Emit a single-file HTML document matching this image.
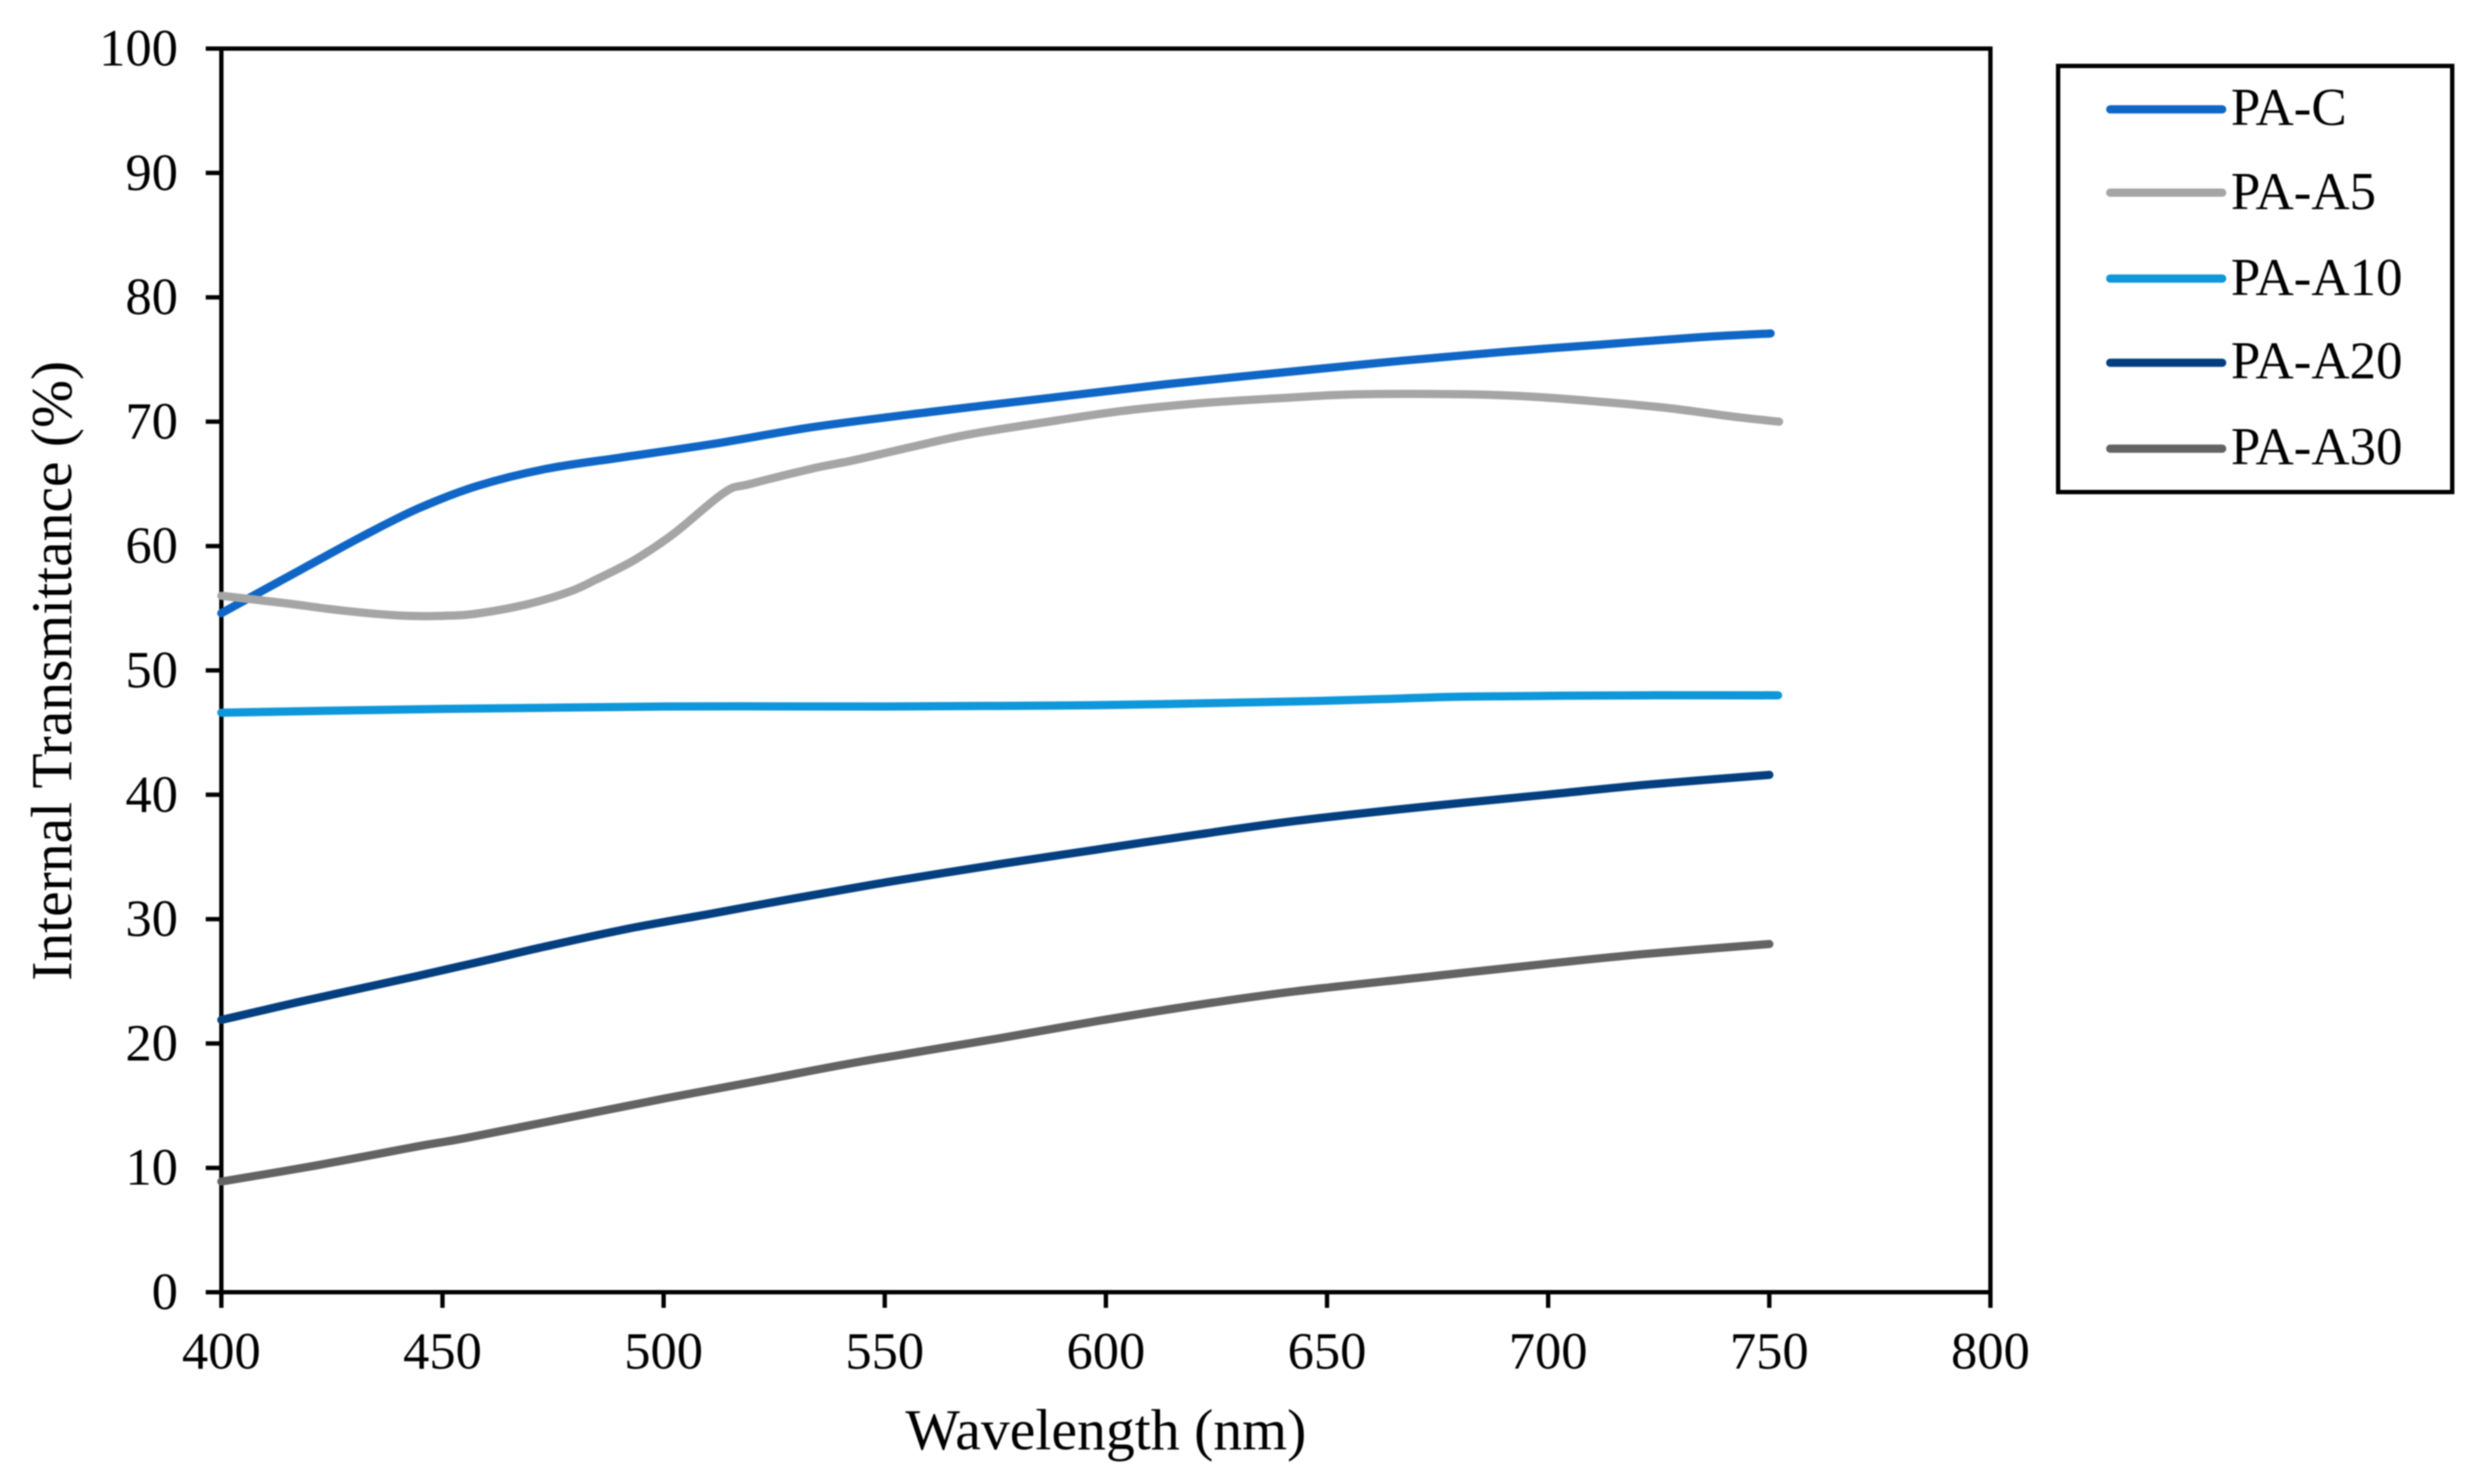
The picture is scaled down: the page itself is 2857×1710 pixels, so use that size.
<!DOCTYPE html>
<html>
<head>
<meta charset="utf-8">
<title>Internal Transmittance vs Wavelength</title>
<style>
html,body{margin:0;padding:0;background:#fff;}
body{width:2857px;height:1710px;overflow:hidden;}
svg{display:block;filter:blur(0.8px);}
text{font-family:"Liberation Serif","Times New Roman",serif;fill:#000;}
</style>
</head>
<body>
<svg id="chart" xmlns="http://www.w3.org/2000/svg" width="2857" height="1710" viewBox="0 0 2857 1710">
  <rect x="255" y="56" width="2038" height="1433" fill="none" stroke="#000" stroke-width="5"/>
  <g id="ticks"></g>
  <g id="series"></g>
  <text transform="translate(82,773) rotate(-90)" text-anchor="middle" font-size="66.3">Internal Transmittance (%)</text>
  <text x="1274" y="1670" text-anchor="middle" font-size="66.5">Wavelength (nm)</text>
  <g>
    <rect x="2371" y="76" width="454" height="491" fill="#fff" stroke="#000" stroke-width="5"/>
    <g>
      <line x1="2431" y1="126" x2="2560" y2="126" stroke="#0F66C6" stroke-width="9.5" stroke-linecap="round"/>
      <text x="2570" y="144" font-size="61">PA-C</text>
    </g>
    <g>
      <line x1="2431" y1="222" x2="2560" y2="222" stroke="#A5A5A5" stroke-width="9.5" stroke-linecap="round"/>
      <text x="2570" y="241" font-size="61">PA-A5</text>
    </g>
    <g>
      <line x1="2431" y1="321" x2="2560" y2="321" stroke="#0E97DA" stroke-width="9.5" stroke-linecap="round"/>
      <text x="2570" y="340" font-size="61">PA-A10</text>
    </g>
    <g>
      <line x1="2431" y1="418" x2="2560" y2="418" stroke="#043F80" stroke-width="9.5" stroke-linecap="round"/>
      <text x="2570" y="436" font-size="61">PA-A20</text>
    </g>
    <g>
      <line x1="2431" y1="517" x2="2560" y2="517" stroke="#636363" stroke-width="9.5" stroke-linecap="round"/>
      <text x="2570" y="535" font-size="61">PA-A30</text>
    </g>
  </g>
</svg>
<script>
var xTickValues = [400, 450, 500, 550, 600, 650, 700, 750, 800];
var yTickValues = [0, 10, 20, 30, 40, 50, 60, 70, 80, 90, 100];

var wavelengthsC = [400, 418, 432, 444.4, 457.6, 473.3, 490, 511, 534.5, 560.8, 587, 613.4, 644, 666.9, 689.5, 711.9, 734.5, 750.3];
var valuesC = [54.6, 58.1, 60.8, 63.0, 64.8, 66.2, 67.1, 68.2, 69.6, 70.8, 71.9, 73.0, 74.1, 74.9, 75.6, 76.2, 76.8, 77.1];

var wavelengthsA5 = [400, 414.6, 427.7, 440.9, 451.5, 458.4, 468.9, 478.5, 484.7, 493.5, 502.3, 513.7, 519.7, 534.5, 543, 556.4, 569.5, 588.9, 604.6, 622, 639.7, 657, 681.8, 696.9, 711.9, 727, 742, 752.2];
var valuesA5 = [56.0, 55.4, 54.8, 54.4, 54.4, 54.6, 55.3, 56.3, 57.3, 58.9, 61.0, 64.3, 65.0, 66.3, 66.9, 68.0, 69.0, 70.1, 70.9, 71.5, 71.9, 72.2, 72.2, 72.0, 71.6, 71.1, 70.4, 70.0];

var wavelengthsA10 = [400, 450, 500, 550, 597, 643, 662.8, 682.5, 722, 752];
var valuesA10 = [46.6, 46.9, 47.1, 47.1, 47.2, 47.5, 47.7, 47.9, 48.0, 48.0];

var wavelengthsA20 = [400, 417, 444, 460, 472, 491.5, 511.7, 528.5, 551, 575.6, 598, 620.7, 643, 671, 699.5, 722, 750];
var valuesA20 = [21.9, 23.3, 25.4, 26.7, 27.7, 29.2, 30.5, 31.6, 33.0, 34.4, 35.6, 36.8, 37.9, 39.0, 40.0, 40.8, 41.6];

var wavelengthsA30 = [400, 421.6, 444, 455.3, 477.9, 500.5, 523, 545.4, 575.6, 598, 620.7, 643, 671, 699.5, 722, 750];
var valuesA30 = [8.9, 10.2, 11.7, 12.4, 14.0, 15.6, 17.1, 18.6, 20.4, 21.8, 23.1, 24.2, 25.3, 26.4, 27.2, 28.0];

var SVG_NS = 'http://www.w3.org/2000/svg';
function xScale(nm) { return 255 + (nm - 400) * (2293 - 255) / 400; }
function yScale(v) { return 1489 - v * (1489 - 56) / 100; }

var tickGroup = document.getElementById('ticks');
xTickValues.forEach(function (t) {
  var tick = document.createElementNS(SVG_NS, 'line');
  
  
  tick.setAttribute('x1', xScale(t));
  tick.setAttribute('x2', xScale(t));
  tick.setAttribute('y1', yScale(0));
  tick.setAttribute('y2', yScale(0) + 18);
  tick.setAttribute('stroke', '#000');
  tick.setAttribute('stroke-width', '5');
  tickGroup.appendChild(tick);
  var label = document.createElementNS(SVG_NS, 'text');
  
  
  label.setAttribute('x', xScale(t));
  label.setAttribute('y', 1577);
  label.setAttribute('text-anchor', 'middle');
  label.setAttribute('font-size', '60.5');
  label.textContent = t;
  tickGroup.appendChild(label);
});
yTickValues.forEach(function (t) {
  var tick = document.createElementNS(SVG_NS, 'line');
  
  
  tick.setAttribute('x1', xScale(400) - 18);
  tick.setAttribute('x2', xScale(400));
  tick.setAttribute('y1', yScale(t));
  tick.setAttribute('y2', yScale(t));
  tick.setAttribute('stroke', '#000');
  tick.setAttribute('stroke-width', '5');
  tickGroup.appendChild(tick);
  var label = document.createElementNS(SVG_NS, 'text');
  
  
  label.setAttribute('x', 205);
  label.setAttribute('y', yScale(t) + 19.5);
  label.setAttribute('text-anchor', 'end');
  label.setAttribute('font-size', '60.5');
  label.textContent = t;
  tickGroup.appendChild(label);
});

function smoothPath(xs, ys) {
  var pts = xs.map(function (x, i) { return [xScale(x), yScale(ys[i])]; });
  var d = 'M' + pts[0][0].toFixed(1) + ' ' + pts[0][1].toFixed(1);
  for (var i = 0; i < pts.length - 1; i++) {
    var p0 = pts[Math.max(i - 1, 0)];
    var p1 = pts[i];
    var p2 = pts[i + 1];
    var p3 = pts[Math.min(i + 2, pts.length - 1)];
    var c1x = p1[0] + (p2[0] - p0[0]) / 6;
    var c1y = p1[1] + (p2[1] - p0[1]) / 6;
    var c2x = p2[0] - (p3[0] - p1[0]) / 6;
    var c2y = p2[1] - (p3[1] - p1[1]) / 6;
    d += 'C' + c1x.toFixed(1) + ' ' + c1y.toFixed(1) + ' ' + c2x.toFixed(1) + ' ' + c2y.toFixed(1) + ' ' + p2[0].toFixed(1) + ' ' + p2[1].toFixed(1);
  }
  return d;
}

var seriesGroup = document.getElementById('series');
function drawSeries(key, xs, ys, color) {
  var line = document.createElementNS(SVG_NS, 'path');
  
  
  line.setAttribute('d', smoothPath(xs, ys));
  line.setAttribute('fill', 'none');
  line.setAttribute('stroke', color);
  line.setAttribute('stroke-width', '9.5');
  line.setAttribute('stroke-linecap', 'round');
  line.setAttribute('stroke-linejoin', 'round');
  seriesGroup.appendChild(line);
}
drawSeries('pa-c', wavelengthsC, valuesC, '#0F66C6');
drawSeries('pa-a5', wavelengthsA5, valuesA5, '#A5A5A5');
drawSeries('pa-a10', wavelengthsA10, valuesA10, '#0E97DA');
drawSeries('pa-a20', wavelengthsA20, valuesA20, '#043F80');
drawSeries('pa-a30', wavelengthsA30, valuesA30, '#636363');
</script>
</body>
</html>
